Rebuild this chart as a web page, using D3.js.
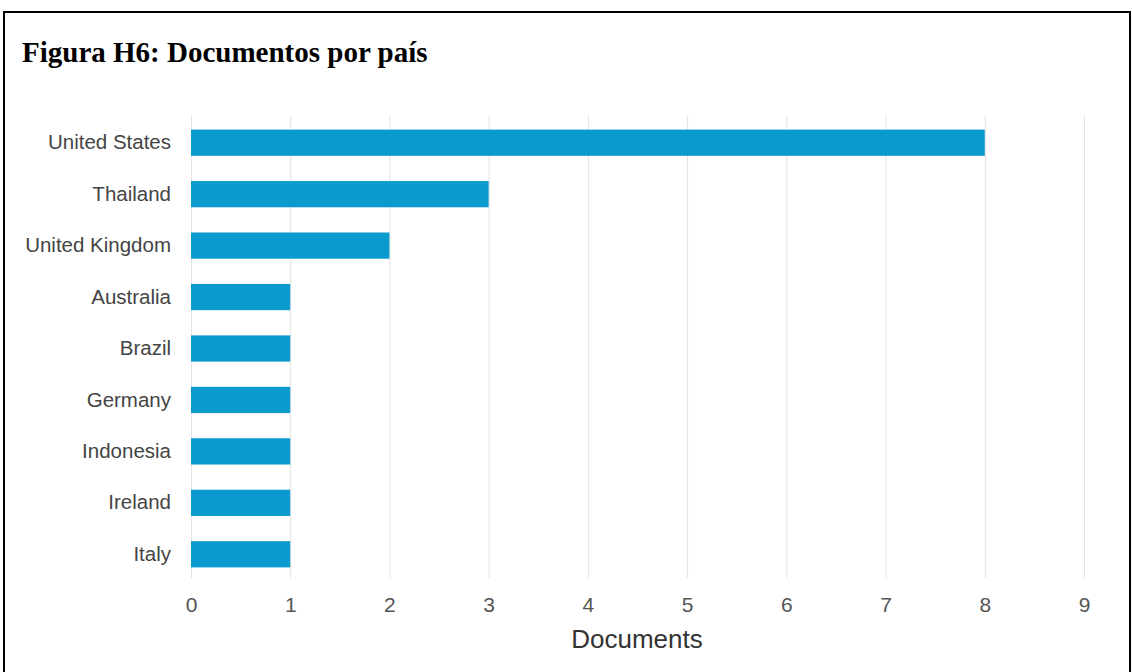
<!DOCTYPE html>
<html>
<head>
<meta charset="utf-8">
<script src="https://cdn.jsdelivr.net/npm/d3@7"></script>
<style>
  html, body { margin: 0; padding: 0; background: #ffffff; }
  svg { display: block; }
</style>
</head>
<body>
<svg id="chart" width="1132" height="672"></svg>
<script>
// Documents per country
const countries = ["United States", "Thailand", "United Kingdom", "Australia", "Brazil", "Germany", "Indonesia", "Ireland", "Italy"];
const documents = [8, 3, 2, 1, 1, 1, 1, 1, 1];
const tickValues = [0, 1, 2, 3, 4, 5, 6, 7, 8, 9];
const titleText = "Figura H6: Documentos por país";
const axisTitle = "Documents";

const svg = d3.select("#chart");
const W = 1132, H = 672;

// Figure frame
svg.append("rect")
  .attr("x", 4).attr("y", 12)
  .attr("width", 1126).attr("height", H + 10)
  .attr("fill", "#ffffff")
  .attr("stroke", "#000000")
  .attr("stroke-width", 2);

// Caption
svg.append("text")
  .attr("x", 22).attr("y", 62)
  .attr("font-family", "'Liberation Serif', 'Times New Roman', serif")
  .attr("font-weight", "bold")
  .attr("font-size", 29)
  .attr("fill", "#000000")
  .text(titleText);

const x = d3.scaleLinear().domain([0, 9]).range([191, 1084]);
const y = d3.scaleBand().domain(countries).range([117, 580]).paddingInner(0.49).paddingOuter(0.245);

const gridTop = 116, gridBottom = 578;

// Vertical gridlines
svg.append("g")
  .selectAll("line")
  .data(tickValues)
  .join("line")
  .attr("x1", d => x(d) + 0.5).attr("x2", d => x(d) + 0.5)
  .attr("y1", gridTop).attr("y2", gridBottom)
  .attr("stroke", "#e2e2e2")
  .attr("stroke-width", 1);

// Bars
svg.append("g")
  .selectAll("rect")
  .data(countries.map((c, i) => ({ c, v: documents[i] })))
  .join("rect")
  .attr("x", x(0))
  .attr("y", d => y(d.c))
  .attr("width", d => x(d.v) - x(0))
  .attr("height", y.bandwidth())
  .attr("fill", "#0b9acd");

// Category axis
const yAxis = svg.append("g")
  .attr("transform", `translate(${x(0) - 20},0)`)
  .call(d3.axisLeft(y).tickSize(0).tickPadding(0));
yAxis.select(".domain").remove();
yAxis.selectAll("text")
  .attr("font-family", "'Liberation Sans', Arial, sans-serif")
  .attr("font-size", 20.5)
  .attr("fill", "#444444");

// Value axis
const xAxis = svg.append("g")
  .attr("transform", `translate(0,${gridBottom})`)
  .call(d3.axisBottom(x).tickValues(tickValues).tickFormat(d3.format("d")).tickSize(0).tickPadding(0));
xAxis.select(".domain").remove();
xAxis.selectAll("text")
  .attr("dy", null)
  .attr("y", 34)
  .attr("font-family", "'Liberation Sans', Arial, sans-serif")
  .attr("font-size", 21)
  .attr("fill", "#555555");

// Axis title
svg.append("text")
  .attr("x", 637).attr("y", 648)
  .attr("text-anchor", "middle")
  .attr("font-family", "'Liberation Sans', Arial, sans-serif")
  .attr("font-size", 26)
  .attr("fill", "#333333")
  .text(axisTitle);
</script>
</body>
</html>
